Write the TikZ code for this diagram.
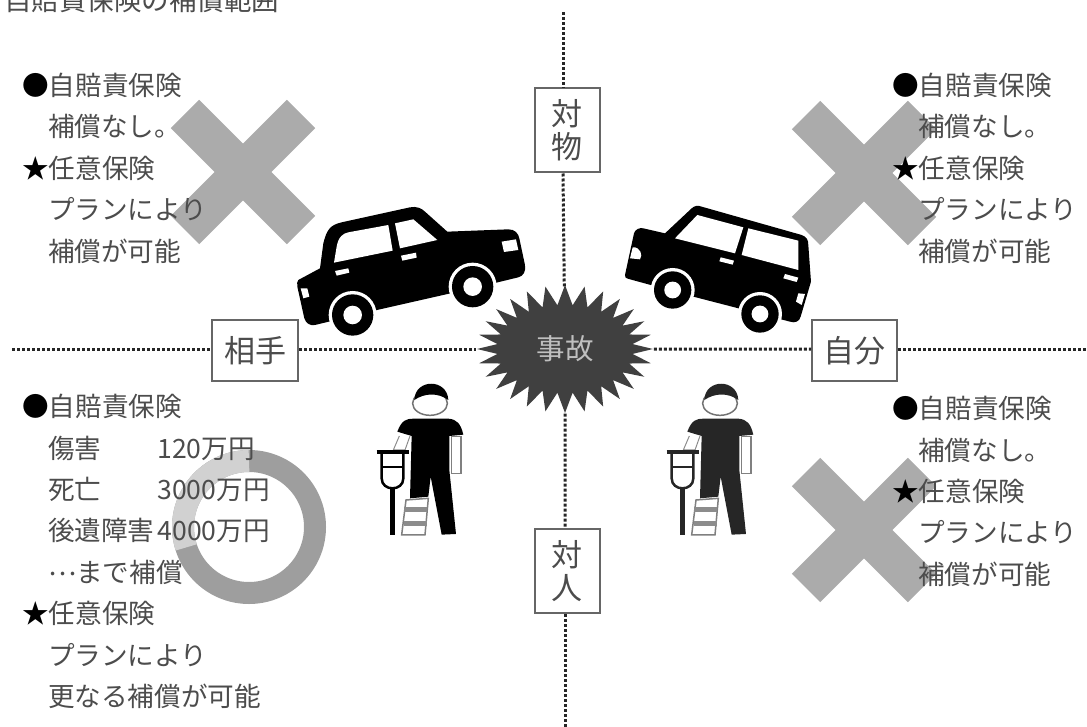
\documentclass[tikz,border=0pt]{standalone}
\usepackage{fontspec}
\setmainfont{Noto Sans CJK JP}
\usetikzlibrary{shapes.symbols}
\definecolor{markgray}{gray}{0.67}
\definecolor{ringgray}{gray}{0.62}
\definecolor{ringlight}{gray}{0.82}
\definecolor{inkgray}{gray}{0.3}
\definecolor{burstgray}{gray}{0.25}

\begin{document}
\begin{tikzpicture}
  [x=1pt,y=-1pt,
   axis/.style={line width=3pt,dash pattern=on 3pt off 2pt,black!85},
   labelbox/.style={draw=black!60,line width=2pt,fill=white,align=center,inner sep=0pt,font=\fontsize{31}{33}\selectfont,text=inkgray},
   cross/.style={line width=40pt,markgray},
   block/.style={anchor=north west,align=left,inner sep=0pt,text=inkgray,font=\fontsize{26.6}{41.4}\selectfont}]

  \useasboundingbox (0,0) rectangle (1087,727);

  \newcommand{\ind}{\hspace*{26pt}}
  \newcommand{\blackmark}[1]{\textcolor{black}{#1}}

  \newcommand{\wheel}[3]{
    \fill[white] (#1,#2) circle [radius=#3+10];
    \fill[black] (#1,#2) circle [radius=#3];
    \fill[white] (#1,#2) circle [radius=#3*0.45];
  }

  \newcommand{\patient}[3]{
    \begin{scope}[shift={(#1,#2)},x=.3333pt,y=-.3333pt]
      % head
      \draw[black!55,line width=1.5pt,fill=white] (210,100) ellipse [x radius=58pt*0.3,y radius=40pt*0.3];
      \fill[#3] (163,90) .. controls (165,25) and (262,25) .. (265,90) .. controls (235,68) and (195,68) .. cycle;
      % body
      \fill[#3] (112,185) .. controls (125,150) and (140,146) .. (160,146) -- (265,146)
        .. controls (290,148) and (302,160) .. (310,194) -- (268,198) -- (268,300)
        -- (288,492) -- (245,494) -- (212,320) -- (205,380) -- (150,385) -- (155,198) -- cycle;
      % arms
      \draw[black!50,line width=1.5pt,fill=white] (275,200) rectangle (303,310);
      \draw[black!45,line width=1pt,fill=white] (118,198) -- (100,240) -- (135,240) -- (150,198);
      % crutch
      \draw[#3,line width=4pt] (50,245) -- (147,245);
      \draw[#3,line width=2.5pt] (65,250) -- (65,325) .. controls (65,365) and (130,365) .. (130,325) -- (130,250);
      \draw[#3,line width=2pt] (68,290) -- (128,290);
      \draw[#3,line width=4.5pt] (98,352) -- (98,495);
      % cast
      \draw[black!50,line width=1.5pt,fill=white] (138,390) -- (205,385) -- (195,495) -- (125,495) -- cycle;
      \foreach \ypos in {412,452}
        \fill[black!45] (133,\ypos) rectangle (200,\ypos+15);
    \end{scope}
  }

  % marks behind the text
  \draw[cross] (185,114) -- (301,230);
  \draw[cross] (185,230) -- (301,114);
  \draw[cross] (806,115) -- (922,231);
  \draw[cross] (806,231) -- (922,115);
  \draw[cross] (806,472) -- (922,588);
  \draw[cross] (806,588) -- (922,472);
  \draw[ringgray,line width=22pt] (249,527) circle [radius=66];
  \draw[ringlight,line width=22pt] (249,461) arc [start angle=-90,end angle=-198,radius=66];

  % labels on the axes
  \node[labelbox,minimum width=65pt,minimum height=84pt] (objectbox) at (567,130.5) {対\\物};
  \node[labelbox,minimum width=65pt,minimum height=84pt] (personbox) at (567,571) {対\\人};
  \node[labelbox,minimum width=86pt,minimum height=61pt] (otherbox) at (255,350.5) {相手};
  \node[labelbox,minimum width=85pt,minimum height=61pt] (selfbox) at (854.5,350.5) {自分};
  \node[shape=starburst,starburst points=28,starburst point height=20pt,random starburst=0,
    fill=burstgray,inner sep=0pt,minimum width=176pt,minimum height=128pt,
    text=black!25,font=\fontsize{28.5}{32}\selectfont] (accident) at (565,349) {事故};

  \coordinate (topend) at (563,12);
  \coordinate (bottomend) at (565,727);
  \coordinate (leftend) at (12,349);
  \coordinate (rightend) at (1087,349);

  \draw[axis] (topend) -- (topend |- objectbox.north);
  \draw[axis] (topend |- objectbox.south) -- (accident);
  \draw[axis] (accident) -- (bottomend |- personbox.north);
  \draw[axis] (bottomend |- personbox.south) -- (bottomend);
  \draw[axis] (leftend) -- (leftend -| otherbox.west);
  \draw[axis] (leftend -| otherbox.east) -- (accident);
  \draw[axis] (accident) -- (rightend -| selfbox.west);
  \draw[axis] (rightend -| selfbox.east) -- (rightend);

  % left car
  \begin{scope}[shift={(280,190)},x=.3333pt,y=-.3333pt]
    \fill[black] (55,270) -- (120,235) -- (130,160) .. controls (140,120) and (150,105) .. (185,97)
      -- (390,52) .. controls (410,48) and (425,55) .. (435,65) -- (502,125) -- (685,118)
      .. controls (705,118) and (715,130) .. (718,145) -- (735,225) .. controls (738,245) and (730,258) .. (715,262)
      -- (600,290) -- (300,358) -- (105,405) .. controls (90,408) and (78,400) .. (73,385) -- (52,290) .. controls (50,280) and (52,275) .. cycle;
    \wheel{218}{375}{62}
    \wheel{578}{290}{62}
    \fill[white] (162,218) -- (170,170) .. controls (175,140) and (190,130) .. (205,127) -- (325,105) -- (338,182) -- cycle;
    \fill[white] (345,100) -- (400,88) -- (472,150) -- (360,175) -- cycle;
    \fill[white] (665,155) -- (708,148) -- (715,180) -- (672,186) -- cycle;
    \fill[white] (62,295) -- (82,295) -- (88,320) -- (70,325) -- cycle;
    \fill[white] (165,243) -- (205,235) -- (208,248) -- (170,257) -- cycle;
    \fill[white] (363,197) -- (408,188) -- (410,203) -- (367,212) -- cycle;
  \end{scope}

  % right car
  \begin{scope}[shift={(610,190)},x=.3333pt,y=-.3333pt]
    \fill[black] (45,255) -- (72,130) .. controls (75,118) and (90,112) .. (100,115) -- (165,130) -- (245,55)
      .. controls (255,46) and (265,46) .. (275,50) -- (575,135) .. controls (590,140) and (595,150) .. (595,165)
      -- (603,275) -- (572,380) .. controls (568,395) and (555,400) .. (540,395) -- (250,320) -- (60,268) .. controls (48,265) and (42,262) .. cycle;
    \wheel{188}{300}{56}
    \wheel{450}{372}{56}
    \fill[white] (195,145) -- (262,75) -- (400,112) -- (375,190) -- cycle;
    \fill[white] (415,115) -- (565,152) -- (565,240) -- (395,195) -- cycle;
    \fill[white] (68,172) .. controls (90,170) and (100,195) .. (90,208) -- (60,205) -- cycle;
    \fill[white] (565,310) -- (585,312) -- (575,345) -- (558,335) -- cycle;
    \fill[white] (332,202) -- (372,212) -- (368,224) -- (328,214) -- cycle;
    \fill[white] (525,252) -- (565,263) -- (560,276) -- (520,265) -- cycle;
  \end{scope}

  \patient{360}{370}{black}
  \patient{650}{370}{black!85}

  % texts
  \node[anchor=west,inner sep=0pt,text=inkgray,font=\fontsize{27.5}{32}\selectfont] (title) at (4,0) {自賠責保険の補償範囲};

  \node[block] (otherobject) at (22,73) {\blackmark{●}自賠責保険\\\ind 補償なし。\\\blackmark{★}任意保険\\\ind プランにより\\\ind 補償が可能};
  \node[block] (selfobject) at (892,73) {\blackmark{●}自賠責保険\\\ind 補償なし。\\\blackmark{★}任意保険\\\ind プランにより\\\ind 補償が可能};
  \node[block] (selfperson) at (892,396) {\blackmark{●}自賠責保険\\\ind 補償なし。\\\blackmark{★}任意保険\\\ind プランにより\\\ind 補償が可能};
  \node[block] (otherperson) at (22,394) {\blackmark{●}自賠責保険\\\ind 傷害\hspace*{56pt}120万円\\\ind 死亡\hspace*{56pt}3000万円\\\ind 後遺障害\hspace*{3pt}4000万円\\\ind \raisebox{7pt}{…}まで補償\\\blackmark{★}任意保険\\\ind プランにより\\\ind 更なる補償が可能};
\end{tikzpicture}
\end{document}
